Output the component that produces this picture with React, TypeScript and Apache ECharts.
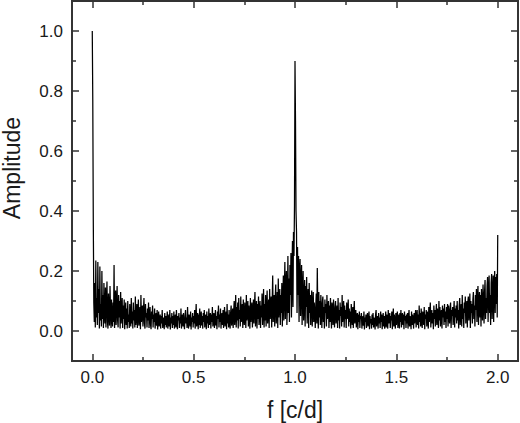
import React, { useEffect, useRef } from "react";
import * as echarts from "echarts";

// Frequency sampling step (c/d); amplitudes below are in units of 0.001
const FREQ_STEP = 0.0025;

// f = 0.000 .. 0.2475
const ampBand0 = [
  1000, 770, 370, 95, 30, 160, 12, 235, 45, 110,
  20, 230, 60, 140, 8, 215, 35, 90, 15, 200,
  40, 120, 10, 160, 55, 25, 145, 12, 90, 165,
  30, 8, 125, 60, 18, 150, 70, 10, 105, 40,
  15, 95, 30, 220, 10, 60, 135, 20, 80, 150,
  35, 12, 120, 45, 100, 8, 130, 25, 70, 110,
  10, 85, 40, 105, 6, 60, 95, 20, 75, 8,
  100, 30, 55, 10, 90, 45, 15, 110, 25, 65,
  8, 95, 35, 70, 12, 115, 20, 50, 90, 10,
  60, 105, 18, 40, 80, 6, 120, 30, 55, 85,
];
// f = 0.250 .. 0.4975
const ampBand1 = [
  15, 70, 110, 25, 8, 90, 45, 60, 12, 75,
  35, 95, 10, 50, 80, 20, 6, 65, 40, 85,
  12, 55, 30, 75, 8, 45, 60, 18, 70, 5,
  40, 65, 15, 30, 55, 8, 50, 25, 70, 10,
  35, 45, 6, 60, 20, 50, 12, 40, 65, 8,
  30, 55, 15, 70, 5, 45, 25, 60, 10, 50,
  20, 65, 8, 40, 55, 12, 70, 30, 6, 50,
  35, 60, 10, 45, 25, 75, 8, 40, 55, 15,
  60, 20, 6, 50, 70, 25, 45, 10, 80, 30,
  8, 55, 40, 15, 65, 5, 45, 30, 60, 12,
];
// f = 0.500 .. 0.7475
const ampBand2 = [
  50, 25, 70, 8, 45, 90, 15, 35, 60, 6,
  55, 20, 75, 10, 40, 65, 18, 50, 8, 60,
  30, 70, 12, 45, 55, 6, 65, 25, 50, 10,
  75, 20, 40, 60, 8, 55, 30, 80, 15, 45,
  60, 10, 35, 70, 18, 50, 6, 65, 40, 85,
  12, 55, 30, 75, 8, 45, 60, 20, 70, 10,
  50, 80, 15, 35, 65, 6, 90, 25, 55, 12,
  70, 30, 8, 60, 85, 18, 45, 75, 10, 65,
  100, 20, 55, 120, 12, 80, 35, 95, 8, 110,
  40, 70, 15, 115, 30, 60, 90, 10, 105, 45,
];
// f = 0.750 .. 0.9975
const ampBand3 = [
  20, 95, 60, 10, 120, 35, 75, 100, 15, 85,
  45, 8, 110, 30, 70, 95, 12, 60, 105, 25,
  80, 130, 15, 55, 100, 8, 90, 40, 115, 20,
  65, 100, 10, 85, 45, 125, 20, 70, 140, 12,
  90, 35, 120, 15, 75, 135, 25, 60, 105, 10,
  140, 40, 80, 115, 12, 95, 185, 30, 70, 120,
  15, 110, 155, 25, 60, 130, 10, 175, 45, 90,
  140, 20, 120, 60, 160, 15, 100, 185, 35, 130,
  230, 40, 150, 200, 20, 95, 250, 60, 175, 30,
  220, 120, 260, 45, 190, 300, 80, 330, 250, 420,
];
// f = 1.000 .. 1.2475
const ampBand4 = [
  900, 700, 400, 330, 60, 280, 120, 250, 30, 200,
  240, 50, 160, 220, 20, 130, 200, 35, 90, 170,
  15, 150, 80, 180, 25, 110, 140, 10, 160, 60,
  120, 20, 100, 135, 15, 75, 130, 30, 95, 60,
  10, 85, 125, 25, 210, 60, 8, 130, 45, 100,
  20, 120, 65, 10, 95, 115, 30, 80, 8, 105,
  60, 90, 15, 120, 40, 70, 100, 10, 85, 30,
  110, 55, 8, 95, 75, 20, 105, 45, 12, 80,
  100, 25, 60, 85, 10, 110, 35, 70, 8, 95,
  50, 80, 15, 120, 30, 65, 100, 12, 85, 40,
];
// f = 1.250 .. 1.4975
const ampBand5 = [
  70, 10, 95, 40, 60, 105, 15, 75, 30, 65,
  8, 90, 50, 20, 80, 10, 60, 100, 25, 55,
  70, 12, 45, 60, 6, 55, 30, 65, 10, 50,
  40, 60, 8, 35, 50, 18, 65, 5, 45, 30,
  55, 10, 45, 60, 15, 30, 65, 6, 50, 25,
  40, 8, 55, 20, 60, 12, 45, 35, 5, 55,
  70, 15, 40, 50, 8, 60, 25, 45, 10, 65,
  30, 55, 6, 40, 60, 15, 50, 8, 35, 65,
  12, 55, 40, 8, 70, 25, 45, 60, 10, 50,
  35, 65, 6, 45, 75, 15, 55, 30, 8, 60,
];
// f = 1.500 .. 1.7475
const ampBand6 = [
  20, 50, 65, 10, 40, 55, 8, 60, 30, 70,
  12, 45, 60, 20, 55, 6, 65, 35, 50, 10,
  55, 25, 60, 8, 45, 70, 15, 50, 35, 6,
  65, 20, 55, 40, 8, 60, 25, 50, 70, 12,
  45, 70, 20, 55, 8, 85, 30, 60, 15, 75,
  35, 10, 65, 50, 20, 80, 6, 55, 40, 70,
  15, 65, 45, 8, 80, 30, 60, 95, 12, 50,
  70, 25, 60, 6, 85, 40, 70, 15, 55, 90,
  20, 75, 50, 10, 100, 35, 80, 15, 60, 70,
  8, 85, 45, 75, 20, 90, 30, 65, 10, 80,
];
// f = 1.750 .. 2.000
const ampBand7 = [
  40, 90, 15, 85, 55, 25, 75, 95, 10, 70,
  50, 80, 20, 60, 100, 12, 75, 45, 85, 25,
  100, 35, 70, 8, 85, 110, 20, 65, 90, 15,
  120, 40, 75, 10, 95, 60, 115, 25, 80, 100,
  12, 95, 115, 35, 70, 125, 10, 100, 60, 90,
  25, 105, 130, 40, 85, 15, 120, 70, 140, 30,
  110, 150, 20, 95, 130, 45, 120, 15, 140, 80,
  35, 155, 100, 25, 130, 170, 40, 110, 60, 150,
  180, 30, 130, 185, 60, 120, 20, 160, 190, 40,
  120, 185, 30, 150, 200, 60, 180, 90, 190, 45,
  320,
];

const xMajorTicks = [0, 0.5, 1.0, 1.5, 2.0];
const xMinorTicks = [0.25, 0.75, 1.25, 1.75];
const yMajorTicks = [0, 0.2, 0.4, 0.6, 0.8, 1.0];
const yMinorTicks = [0.1, 0.3, 0.5, 0.7, 0.9];

const X_MIN = -0.1;
const X_MAX = 2.1;
const Y_MIN = -0.1;
const Y_MAX = 1.1;

const FONT = "'Liberation Sans', Arial, Helvetica, sans-serif";
const AXIS_COLOR = "#333";
const TEXT_COLOR = "#1a1a1a";

function buildData(): [number, number][] {
  const all = [
    ...ampBand0, ...ampBand1, ...ampBand2, ...ampBand3,
    ...ampBand4, ...ampBand5, ...ampBand6, ...ampBand7,
  ];
  return all.map((a, i) => [+(i * FREQ_STEP).toFixed(4), a / 1000]);
}

function xAxisDef(position: "top" | "bottom", ticks: number[], len: number, labels: boolean, name?: string) {
  return {
    type: "value",
    position,
    min: X_MIN,
    max: X_MAX,
    name: name,
    nameLocation: "middle",
    nameGap: 37,
    nameTextStyle: { fontFamily: FONT, fontSize: 23, color: TEXT_COLOR },
    axisLine: { show: true, onZero: false, lineStyle: { color: AXIS_COLOR, width: 1.8 } },
    axisTick: {
      show: true,
      inside: true,
      length: len,
      customValues: ticks,
      lineStyle: { color: AXIS_COLOR, width: 1.5 },
    },
    axisLabel: labels
      ? {
          show: true,
          customValues: ticks,
          margin: 8,
          fontFamily: FONT,
          fontSize: 17,
          color: TEXT_COLOR,
          formatter: (v: number) => v.toFixed(1),
        }
      : { show: false },
    splitLine: { show: false },
  };
}

function yAxisDef(position: "left" | "right", ticks: number[], len: number, labels: boolean) {
  return {
    type: "value",
    position,
    min: Y_MIN,
    max: Y_MAX,
    axisLine: { show: true, onZero: false, lineStyle: { color: AXIS_COLOR, width: 1.8 } },
    axisTick: {
      show: true,
      inside: true,
      length: len,
      customValues: ticks,
      lineStyle: { color: AXIS_COLOR, width: 1.5 },
    },
    axisLabel: labels
      ? {
          show: true,
          customValues: ticks,
          margin: 9,
          fontFamily: FONT,
          fontSize: 17,
          color: TEXT_COLOR,
          formatter: (v: number) => v.toFixed(1),
        }
      : { show: false },
    splitLine: { show: false },
  };
}

export default function App() {
  const ref = useRef<HTMLDivElement>(null);

  useEffect(() => {
    if (!ref.current) return;
    const chart = echarts.init(ref.current, null, { renderer: "svg" });
    chart.setOption({
      animation: false,
      backgroundColor: "#ffffff",
      grid: { left: 72, right: 2, top: 1, bottom: 62, containLabel: false, outerBoundsMode: "none" },
      xAxis: [
        xAxisDef("bottom", xMajorTicks, 7, true, "f [c/d]"),
        xAxisDef("bottom", xMinorTicks, 4, false),
        xAxisDef("top", xMajorTicks, 7, false),
        xAxisDef("top", xMinorTicks, 4, false),
      ],
      yAxis: [
        yAxisDef("left", yMajorTicks, 7, true),
        yAxisDef("left", yMinorTicks, 4, false),
        yAxisDef("right", yMajorTicks, 7, false),
        yAxisDef("right", yMinorTicks, 4, false),
      ],
      graphic: [
        {
          type: "text",
          x: 12,
          y: 168,
          rotation: Math.PI / 2,
          style: {
            text: "Amplitude",
            fontFamily: FONT,
            fontSize: 23,
            fill: TEXT_COLOR,
            align: "center",
            verticalAlign: "middle",
          },
        },
      ],
      series: [
        {
          type: "line",
          xAxisIndex: 0,
          yAxisIndex: 0,
          data: buildData(),
          showSymbol: false,
          symbol: "none",
          lineStyle: { color: "#000", width: 1.25 },
          itemStyle: { color: "#000" },
          emphasis: { disabled: true },
          silent: true,
        },
      ],
    });
    return () => chart.dispose();
  }, []);

  return (
    <div
      ref={ref}
      style={{ position: "fixed", left: 0, top: 0, width: 520, height: 423, background: "#fff" }}
    />
  );
}
